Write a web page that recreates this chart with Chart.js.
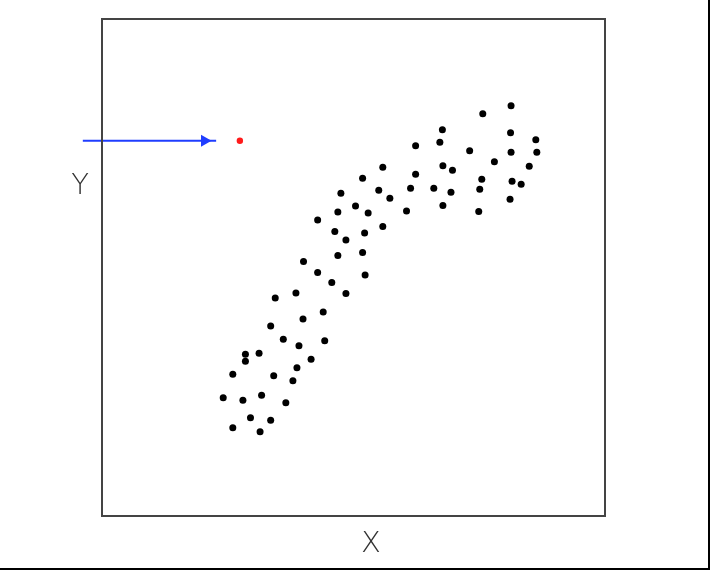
<!DOCTYPE html>
<html><head><meta charset="utf-8">
<script src="https://cdn.jsdelivr.net/npm/chart.js@4/dist/chart.umd.min.js"></script>
<style>
html,body{margin:0;padding:0;background:#fff;}
#wrap{width:710px;height:570px;box-sizing:border-box;border-right:2px solid #000;border-bottom:2px solid #000;}
canvas{display:block;}
</style></head>
<body><div id="wrap"><canvas id="c" width="708" height="568"></canvas></div>
<script>
const xValues = [36.1,39.2,44.3,28.6,28.6,31.3,41.6,38.8,26.1,34.2,38.0,24.2,28.1,31.8,36.6,29.6,33.6,26.1,31.5,
  33.6,34.5,38.6,40.0,44.0,42.9,45.7,48.5,
  55.8,51.8,62.3,67.7,69.6,47.5,55.0,57.2,61.3,65.9,69.3,67.7,60.5,50.4,46.9,52.9,42.9,46.3,52.2,55.8,48.5,46.9,51.8,40.1,52.3,
  81.2,75.6,67.6,81.1,62.3,67.1,73.0,86.1,81.2,86.3,77.9,84.8,75.4,81.4,83.2,75.0,81.0,74.8];
const yValues = [35.6,34.3,35.3,32.6,31.2,32.8,31.6,29.9,28.6,28.3,27.3,23.9,23.4,24.4,22.9,19.9,19.4,17.9,17.1,
  38.3,43.9,44.9,39.7,41.1,49.0,47.0,44.8,
  70.1,67.9,68.7,70.4,69.5,64.9,65.5,63.9,65.9,65.9,65.1,62.4,61.3,62.3,61.1,60.9,59.5,57.2,56.9,58.2,55.5,52.4,53.0,51.2,48.5,
  82.4,80.8,77.6,77.0,74.4,75.1,73.4,75.6,73.1,73.1,71.2,70.3,67.7,67.3,66.7,65.7,63.7,61.2];
const highlightX = [27.5];
const highlightY = [75.4];
const arrowX = [-3.6, 20.5, 22.8];
const arrowY = [75.4, 75.4, 75.4];
const axisLabels = {x: "X", y: "Y"};

const pts = xValues.map((x,i)=>({x, y:yValues[i]}));
const red = highlightX.map((x,i)=>({x, y:highlightY[i]}));
const arrow = arrowX.map((x,i)=>({x, y:arrowY[i]}));

const framePlugin = {
  id:'frame',
  afterDraw(chart){
    const {ctx, chartArea:a} = chart;
    ctx.save();
    ctx.strokeStyle = '#444';
    ctx.lineWidth = 2;
    ctx.strokeRect(a.left+1, a.top+1, a.right-a.left-2, a.bottom-a.top-2);
    ctx.fillStyle = '#333';
    ctx.font = '200 29px "DejaVu Sans", sans-serif';
    ctx.textAlign = 'center';
    ctx.textBaseline = 'alphabetic';
    ctx.fillText(axisLabels.y, a.left - 21, 194);
    ctx.fillText(axisLabels.x, a.left + 270, a.bottom + 35);
    ctx.restore();
  }
};

new Chart(document.getElementById('c'), {
  type:'scatter',
  data:{datasets:[
    {data:pts, backgroundColor:'#000', borderColor:'#000', pointRadius:3.5, pointBorderWidth:0},
    {data:red, backgroundColor:'#ff1a1a', borderColor:'#ff1a1a', pointRadius:3.2, pointBorderWidth:0},
    {type:'line', data:arrow, borderColor:'#1f3dff', borderWidth:2, backgroundColor:'#1f3dff',
     pointRadius:[0,7,0], pointStyle:'triangle', rotation:90, pointBorderWidth:0, clip:false, fill:false}
  ]},
  options:{
    responsive:false, animation:false,
    layout:{padding:{left:101, top:18, right:102, bottom:51}},
    plugins:{legend:{display:false}, tooltip:{enabled:false}},
    scales:{
      x:{type:'linear', min:0, max:100, display:false},
      y:{type:'linear', min:0, max:100, display:false}
    }
  },
  plugins:[framePlugin]
});
</script></body></html>
